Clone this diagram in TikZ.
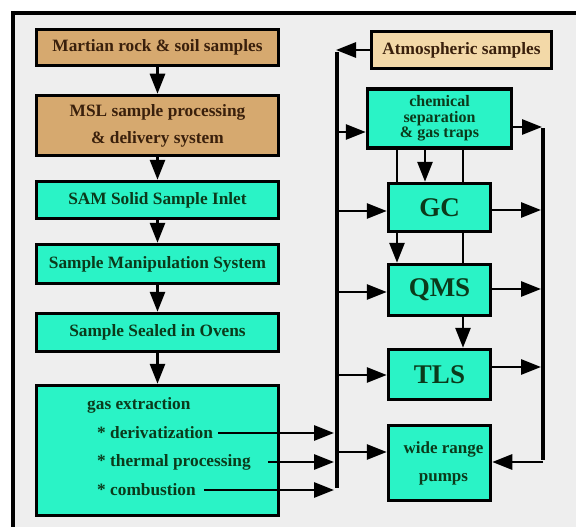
\documentclass[tikz,border=0pt]{standalone}
\usepackage{fontspec}
\setmainfont{Liberation Serif}
\usetikzlibrary{arrows.meta}
\definecolor{bggray}{HTML}{EEEEEE}
\definecolor{aqua}{HTML}{2AF3C6}
\definecolor{tan}{HTML}{D6A96F}
\definecolor{lighttan}{HTML}{F3D9A8}
\definecolor{greentext}{HTML}{0B3A1B}
\definecolor{browntext}{HTML}{3A200C}
\tikzset{
  boxbase/.style={draw=black, line width=3.5pt, inner sep=0pt, font=\bfseries\fontsize{17.3}{19}\selectfont},
  greenbox/.style={boxbase, fill=aqua, text=greentext},
  tanbox/.style={boxbase, fill=tan, text=browntext},
  atmbox/.style={boxbase, fill=lighttan, text=browntext},
  bigtext/.style={font=\bfseries\fontsize{27}{29}\selectfont},
  arr/.style={line width=2.8pt, -{Triangle[length=20pt,width=15pt]}},
  plain/.style={line width=2.8pt},
  bus/.style={line width=4pt},
  ltext/.style={anchor=west, inner sep=0pt, text=greentext, font=\bfseries\fontsize{17.3}{19}\selectfont}
}
\begin{document}
\begin{tikzpicture}[x=1pt,y=-1pt]
\useasboundingbox (0,0) rectangle (576,527);
\fill[white] (0,0) rectangle (576,527);
\fill[bggray] (13,13) rectangle (576,527);
\draw[line width=4pt] (11,13) -- (576,13);
\draw[line width=4pt] (13,11) -- (13,527);

% left column
\node[tanbox, minimum width=242pt, minimum height=36pt] (mars) at (157.5,47.5) {Martian rock \& soil samples};
\node[tanbox, minimum width=242pt, minimum height=60pt, align=center, font=\bfseries\fontsize{17.3}{27}\selectfont] (msl) at (157.5,125.5) {MSL sample processing\\\& delivery system};
\node[greenbox, minimum width=242pt, minimum height=37pt] (sam) at (157.5,200) {SAM Solid Sample Inlet};
\node[greenbox, minimum width=242pt, minimum height=39pt] (sms) at (157.5,264) {Sample Manipulation System};
\node[greenbox, minimum width=242pt, minimum height=38pt] (sso) at (157.5,332.5) {Sample Sealed in Ovens};
\node[greenbox, minimum width=242pt, minimum height=130pt] (gas) at (157.5,450.5) {};
\node[ltext] (gt) at (87,405) {gas extraction};
\node[ltext] (der) at (97,433) {* derivatization};
\node[ltext] (the) at (97,462) {* thermal processing};
\node[ltext] (com) at (97,490) {* combustion};

\draw[arr] (mars) -- (msl);
\draw[arr] (msl) -- (sam);
\draw[arr] (sam) -- (sms);
\draw[arr] (sms) -- (sso);
\draw[arr] (sso) -- (gas);

% right column
\node[atmbox, minimum width=180pt, minimum height=37pt] (atm) at (461.5,50) {Atmospheric samples};
\node[greenbox, minimum width=144pt, minimum height=59pt, align=center, font=\bfseries\fontsize{16}{15.5}\selectfont] (chem) at (439.5,118.5) {chemical\\separation\\\& gas traps};
\node[greenbox, bigtext, minimum width=102pt, minimum height=48pt] (gc) at (439.5,207.5) {GC};
\node[greenbox, bigtext, minimum width=102pt, minimum height=51pt] (qms) at (439.5,290) {QMS};
\node[greenbox, bigtext, minimum width=102pt, minimum height=50pt] (tls) at (439.5,374.5) {TLS};
\node[greenbox, minimum width=102pt, minimum height=75pt, align=center, font=\bfseries\fontsize{17}{28}\selectfont] (pumps) at (439.5,463) {\hspace*{8pt}wide range\\\hspace*{8pt}pumps};

% left bus
\coordinate (lbt) at (337,50);
\coordinate (lbb) at (337,490);
\draw[bus] ([yshift=-2pt]lbt) -- ([yshift=2pt]lbb);
\draw[arr] (atm.west) -- ([xshift=-1pt]lbt);

% gas lines into bus
\draw[arr, shorten >=3pt] ([xshift=5pt]der.east) -- (der.east -| lbt);
\draw[arr, shorten >=3pt] ([xshift=17pt]the.east) -- (the.east -| lbt);
\draw[arr, shorten >=3pt] ([xshift=8pt]com.east) -- (com.east -| lbt);

% bus to boxes
\coordinate (jchem) at (337,132);
\coordinate (jgc) at (337,211);
\coordinate (jqms) at (337,292);
\coordinate (jtls) at (337,375);
\coordinate (jpmp) at (337,452);
\draw[arr] (jchem) -- (jchem -| chem.west);
\draw[arr] (jgc) -- (jgc -| gc.west);
\draw[arr] (jqms) -- (jqms -| qms.west);
\draw[arr] (jtls) -- (jtls -| tls.west);
\draw[arr] (jpmp) -- (jpmp -| pumps.west);

% right bus
\coordinate (rbt) at (543,127);
\coordinate (rbb) at (543,462);
\draw[bus] ([yshift=-1pt]rbt) -- ([yshift=2pt]rbb);
\draw[arr, shorten >=1pt] (rbt -| chem.east) -- (rbt);
\coordinate (rgc) at (543,210);
\coordinate (rqms) at (543,289);
\coordinate (rtls) at (543,367);
\draw[arr, shorten >=2pt] (rgc -| gc.east) -- (rgc);
\draw[arr, shorten >=2pt] (rqms -| qms.east) -- (rqms);
\draw[arr, shorten >=2pt] (rtls -| tls.east) -- (rtls);
\draw[arr] (rbb) -- (rbb -| pumps.east);

% links between right boxes
\coordinate (xa) at (397,0);
\coordinate (xb) at (425,0);
\coordinate (xc) at (463,0);
\draw[plain] (xa |- chem.south) -- (xa |- gc.north);
\draw[arr] (xb |- chem.south) -- (xb |- gc.north);
\draw[plain] (xc |- chem.south) -- (xc |- gc.north);
\draw[arr] (xa |- gc.south) -- (xa |- qms.north);
\draw[plain] (xc |- gc.south) -- (xc |- qms.north);
\draw[arr] (xc |- qms.south) -- (xc |- tls.north);
\end{tikzpicture}
\end{document}
